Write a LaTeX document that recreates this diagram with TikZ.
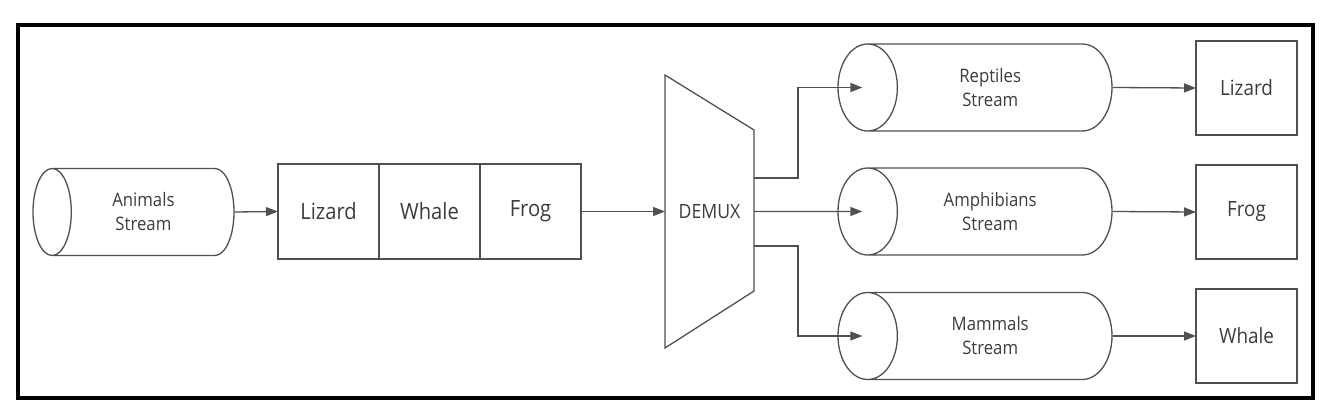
\documentclass[tikz,border=0pt]{standalone}
\usepackage{fontspec}
\setmainfont{Open Sans}[FakeStretch=0.9]
\usetikzlibrary{shapes.geometric,positioning,arrows.meta,calc}
\definecolor{linegray}{HTML}{505050}
\definecolor{textgray}{HTML}{3C3C3C}
\tikzset{
  flow/.style={draw=linegray,line width=1.3pt,-{Triangle[length=12pt,width=9pt]}},
  itembox/.style={draw=linegray,line width=1.3pt,minimum width=101pt,minimum height=95pt,inner sep=0pt,outer sep=0pt,text=textgray,font=\fontsize{21}{25}\selectfont},
  stream/.style={cylinder,shape border rotate=180,draw=linegray,line width=1.3pt,align=center,inner sep=0pt,text=textgray,font=\fontsize{18.6}{24}\selectfont,minimum width=87pt}
}
\begin{document}
\begin{tikzpicture}[x=1pt,y=-1pt]
\useasboundingbox (0,0) rectangle (1330,417);
\draw[line width=4pt] (18,25) rectangle (1312.5,397.5);
% input stream and its items
\node[stream,aspect=1.0,minimum height=201pt,anchor=shape center] (animals) at (133.5,212) {Animals\\Stream};
\node[itembox,font=\fontsize{22.4}{26}\selectfont] (lizin) at (328.5,211.5) {Lizard};
\node[itembox,font=\fontsize{22.4}{26}\selectfont,right=0pt of lizin] (whalein) {Whale};
\node[itembox,font=\fontsize{22.4}{26}\selectfont,right=0pt of whalein] (frogin) {Frog};
% demultiplexer
\draw[linegray,line width=1.3pt] (665,75) -- (754,130) -- (754,291) -- (665,348) -- cycle;
\node[text=textgray,font=\fontsize{19.6}{23}\selectfont] (demux) at (709.5,212) {DEMUX};
\coordinate (dmin) at (665,211.5);
\coordinate (dmtop) at (754,178);
\coordinate (dmmid) at (754,211.5);
\coordinate (dmbot) at (754,246);
% output streams
\node[stream,aspect=1.55,minimum height=274pt,anchor=shape center] (reptiles) at (975,87.5) {Reptiles\\Stream};
\node[stream,aspect=1.55,minimum height=274pt,anchor=shape center] (amphib) at (975,211.5) {Amphibians\\Stream};
\node[stream,aspect=1.55,minimum height=274pt,anchor=shape center] (mammals) at (975,336) {Mammals\\Stream};
\node[itembox,minimum height=94pt] (lizout) at (1246.5,88) {Lizard};
\node[itembox,minimum height=94pt] (frogout) at (1246.5,212) {Frog};
\node[itembox,minimum height=94pt] (whaleout) at (1246.5,336) {Whale};
\draw[flow] (animals.east) -- (lizin.west);
\draw[flow] (frogin.east) -- (dmin);
\draw[flow] (dmtop) -- ++(44,0) |- ($(reptiles.west)+(25,0)$);
\draw[flow] (dmmid) -- ($(amphib.west)+(25,0)$);
\draw[flow] (dmbot) -- ++(44,0) |- ($(mammals.west)+(25,0)$);
\draw[flow] (reptiles.east) -- (lizout.west);
\draw[flow] (amphib.east) -- (frogout.west);
\draw[flow] (mammals.east) -- (whaleout.west);
\end{tikzpicture}
\end{document}
